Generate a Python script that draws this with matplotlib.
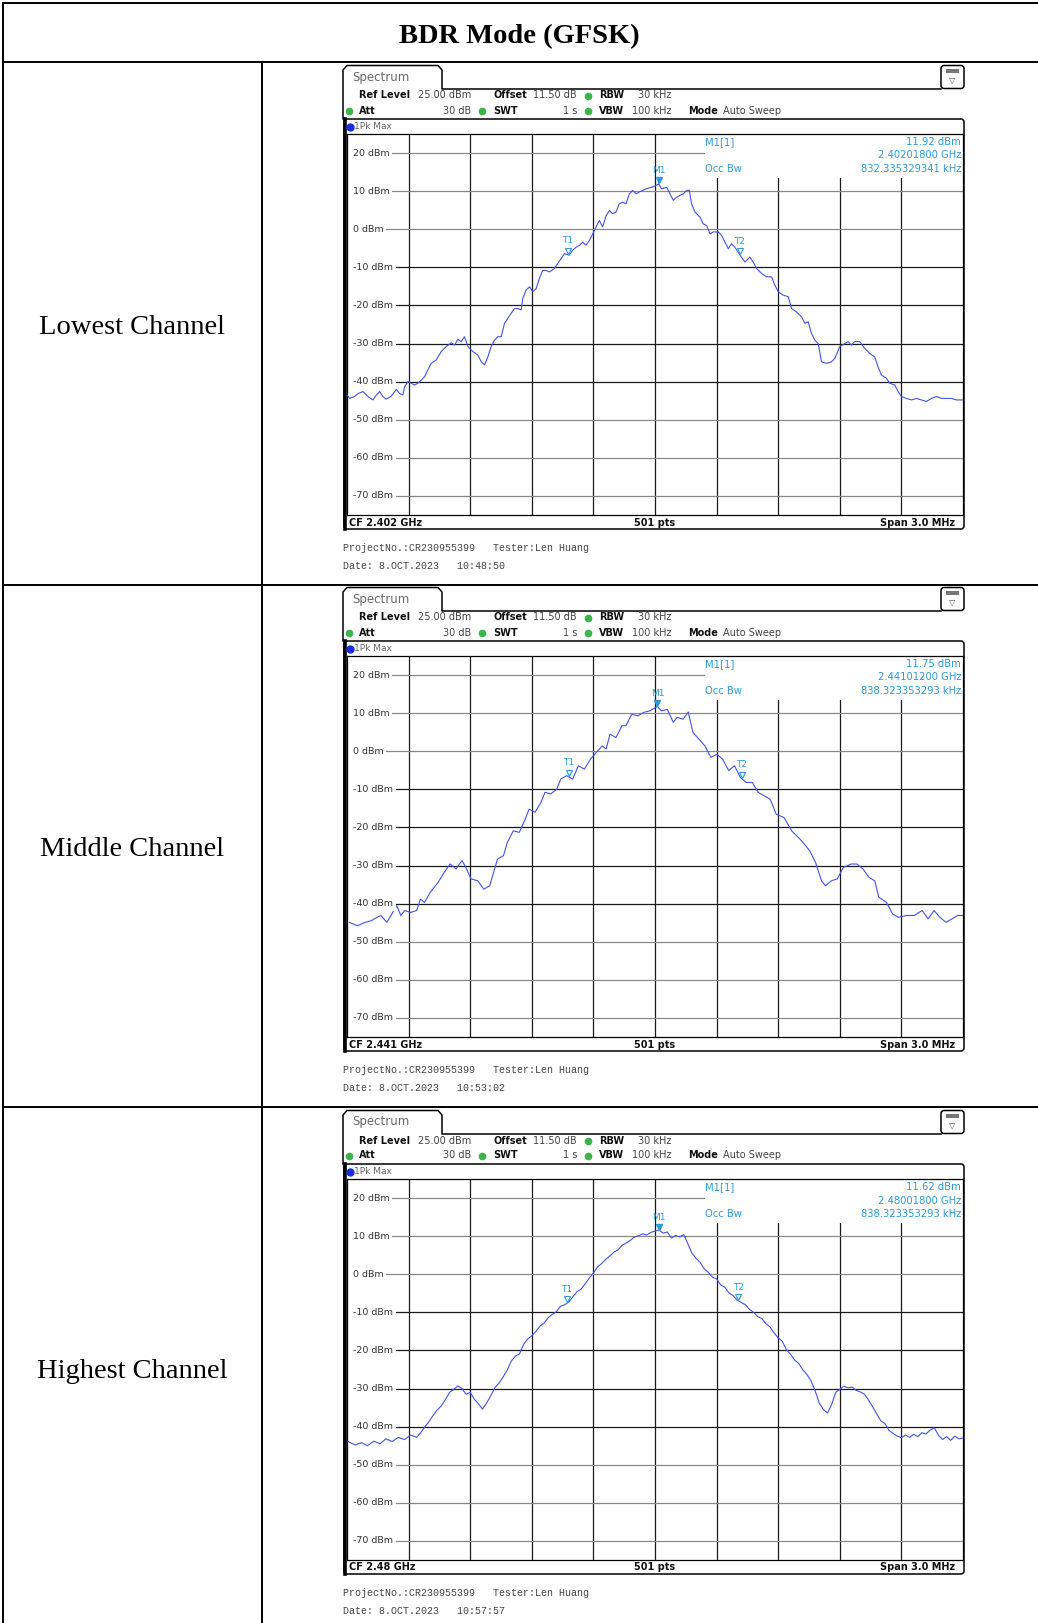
import numpy as np
import matplotlib
matplotlib.use("Agg")
import matplotlib.pyplot as plt
from matplotlib.patches import Rectangle, FancyBboxPatch

W, H = 1038, 1623

# ---- traces: frequency offset from CF (MHz) and level (dBm)
LOW_F = [-1.500, -1.487, -1.463, -1.446, -1.422, -1.398, -1.374, -1.357, -1.341, -1.325,
         -1.309, -1.284, -1.260, -1.244, -1.228, -1.219, -1.203, -1.187, -1.171, -1.155,
         -1.138, -1.122, -1.106, -1.090, -1.065, -1.041, -1.017, -0.992, -0.976, -0.960,
         -0.944, -0.928, -0.911, -0.887, -0.863, -0.846, -0.830, -0.814, -0.798, -0.782,
         -0.765, -0.749, -0.733, -0.717, -0.701, -0.684, -0.668, -0.652, -0.644, -0.628,
         -0.611, -0.595, -0.579, -0.563, -0.547, -0.530, -0.514, -0.490, -0.474, -0.457,
         -0.441, -0.417, -0.401, -0.384, -0.368, -0.352, -0.336, -0.319, -0.303, -0.287,
         -0.271, -0.255, -0.238, -0.222, -0.206, -0.190, -0.174, -0.157, -0.141, -0.125,
         -0.109, -0.092, -0.076, -0.060, -0.044, -0.019, 0.000, 0.018,
         0.032, 0.057, 0.073, 0.089, 0.105, 0.122, 0.138, 0.154, 0.167, 0.178,
         0.195, 0.219, 0.235, 0.251, 0.268, 0.284, 0.308, 0.324, 0.341, 0.357,
         0.373, 0.389, 0.414, 0.438, 0.462, 0.478, 0.495, 0.519, 0.543, 0.568,
         0.584, 0.600, 0.624, 0.649, 0.665, 0.689, 0.714, 0.730, 0.746, 0.762,
         0.778, 0.795, 0.811, 0.835, 0.859, 0.876, 0.900, 0.924, 0.941, 0.957,
         0.973, 0.997, 1.022, 1.046, 1.070, 1.086, 1.103, 1.127, 1.143, 1.168,
         1.184, 1.200, 1.224, 1.249, 1.273, 1.297, 1.322, 1.346, 1.370, 1.395,
         1.419, 1.443, 1.468, 1.500]
LOW_DB = [-43.5, -44.4, -43.9, -43.1, -42.6, -43.9, -44.8, -43.5, -42.6, -43.9,
          -44.6, -43.8, -42.0, -43.1, -43.5, -41.3, -40.0, -40.4, -40.9, -40.4,
          -39.6, -38.7, -36.9, -35.2, -34.3, -32.1, -30.8, -29.8, -30.4, -28.9,
          -29.5, -28.2, -30.8, -32.1, -33.0, -34.8, -35.6, -33.5, -30.8, -29.1,
          -28.2, -28.2, -24.7, -23.4, -22.1, -20.8, -20.8, -21.2, -18.2, -16.0,
          -15.1, -16.4, -15.6, -12.9, -10.8, -10.8, -11.2, -10.3, -9.0, -7.7,
          -6.4, -6.8, -5.5, -4.7, -4.2, -3.4, -4.2, -2.9, -1.2, 0.6,
          2.3, 0.6, 3.6, 4.9, 4.1, 4.5, 6.7, 7.1, 6.7, 9.3,
          10.2, 9.3, 9.8, 10.2, 10.6, 11.0, 11.3, 11.92,
          10.6, 11.0, 9.3, 7.6, 8.4, 8.9, 9.3, 10.2, 10.2, 6.7,
          4.5, 3.2, 1.4, 1.0, -1.2, -0.7, -0.7, -1.6, -3.4, -5.1,
          -3.8, -4.7, -6.8, -8.6, -7.3, -8.6, -10.3, -11.6, -12.5, -12.5,
          -14.7, -16.4, -17.3, -17.7, -20.8, -21.7, -23.0, -24.7, -24.3, -27.3,
          -29.1, -30.0, -34.8, -35.2, -34.8, -33.9, -30.8, -30.0, -29.5, -30.4,
          -29.5, -29.5, -31.3, -32.6, -33.5, -36.1, -38.3, -39.1, -40.4, -40.9,
          -42.6, -43.9, -44.4, -44.8, -44.4, -44.8, -45.2, -44.4, -43.9, -44.4,
          -44.4, -44.4, -44.8, -44.8]

MID_F = [-1.488, -1.450, -1.411, -1.383, -1.354, -1.335, -1.306, -1.277, -1.258, -1.238,
         -1.219, -1.190, -1.161, -1.142, -1.123, -1.094, -1.056, -1.027, -0.998, -0.969,
         -0.940, -0.921, -0.896, -0.863, -0.834, -0.805, -0.786, -0.767, -0.738, -0.719,
         -0.690, -0.661, -0.632, -0.613, -0.584, -0.555, -0.536, -0.507, -0.478, -0.459,
         -0.430, -0.401, -0.373, -0.344, -0.315, -0.286, -0.257, -0.238, -0.219, -0.190,
         -0.161, -0.142, -0.113, -0.084, -0.055, -0.026, 0.012, 0.031, 0.060, 0.089,
         0.108, 0.137, 0.162, 0.185, 0.214, 0.243, 0.272, 0.301, 0.330, 0.359,
         0.387, 0.416, 0.445, 0.474, 0.503, 0.532, 0.561, 0.590, 0.628, 0.666,
         0.705, 0.734, 0.753, 0.782, 0.811, 0.830, 0.859, 0.888, 0.917, 0.955,
         0.984, 1.013, 1.042, 1.070, 1.090, 1.128, 1.157, 1.186, 1.224, 1.263,
         1.301, 1.330, 1.359, 1.388, 1.417, 1.446, 1.474, 1.500]
MID_DB = [-44.9, -45.8, -44.9, -44.5, -43.6, -43.1, -44.9, -42.3, -40.5, -43.1,
          -41.8, -42.3, -41.8, -38.8, -39.7, -37.0, -34.4, -31.8, -29.6, -30.9,
          -28.7, -30.5, -33.5, -34.0, -36.2, -35.3, -31.8, -28.3, -27.4, -23.9,
          -20.9, -21.3, -17.8, -15.2, -16.0, -13.4, -10.8, -11.2, -9.9, -7.3,
          -6.4, -7.3, -3.8, -4.7, -2.1, -0.3, 1.4, 0.6, 4.5, 3.6,
          6.7, 6.7, 9.7, 9.3, 10.2, 10.6, 11.75, 10.6, 11.0, 7.6,
          8.9, 8.4, 10.3, 4.9, 3.2, 1.4, -1.6, -0.8, -2.1, -5.1,
          -3.8, -6.9, -8.2, -8.2, -10.8, -11.7, -12.6, -16.5, -17.4, -20.9,
          -23.0, -24.8, -26.1, -29.2, -34.0, -35.3, -34.0, -33.5, -30.5, -29.6,
          -29.6, -30.9, -33.1, -34.0, -38.3, -39.7, -42.7, -43.6, -43.1, -43.1,
          -41.8, -44.0, -41.8, -43.6, -44.9, -44.0, -43.1, -43.1]

HIGH_F = [-1.495, -1.46, -1.43, -1.40, -1.37, -1.34, -1.31, -1.28, -1.25, -1.22,
          -1.19, -1.16, -1.14, -1.12, -1.10, -1.08, -1.06, -1.04, -1.02, -1.00,
          -0.98, -0.96, -0.94, -0.92, -0.90, -0.88, -0.86, -0.84, -0.82, -0.80,
          -0.78, -0.76, -0.74, -0.72, -0.70, -0.68, -0.66, -0.64, -0.62, -0.60,
          -0.58, -0.56, -0.54, -0.52, -0.50, -0.48, -0.46, -0.44, -0.42, -0.40,
          -0.38, -0.36, -0.34, -0.32, -0.30, -0.28, -0.26, -0.24, -0.22, -0.20,
          -0.18, -0.16, -0.14, -0.12, -0.10, -0.08, -0.06, -0.04, -0.02, 0.018,
          0.04, 0.06, 0.08, 0.10, 0.12, 0.14, 0.16, 0.18, 0.20, 0.22,
          0.24, 0.26, 0.28, 0.30, 0.32, 0.34, 0.36, 0.38, 0.40, 0.42,
          0.44, 0.46, 0.48, 0.50, 0.52, 0.54, 0.56, 0.58, 0.60, 0.62,
          0.64, 0.66, 0.68, 0.70, 0.72, 0.74, 0.76, 0.78, 0.80, 0.82,
          0.84, 0.86, 0.88, 0.90, 0.92, 0.94, 0.96, 0.98, 1.00, 1.02,
          1.04, 1.06, 1.08, 1.10, 1.12, 1.14, 1.16, 1.18, 1.20, 1.22,
          1.24, 1.26, 1.28, 1.30, 1.32, 1.34, 1.36, 1.38, 1.40, 1.42,
          1.44, 1.46, 1.48, 1.50]
HIGH_DB = [-43.9, -44.8, -44.2, -45.0, -43.8, -44.5, -43.2, -43.9, -42.8, -43.4,
           -42.2, -42.8, -41.5, -40.0, -38.6, -37.0, -35.6, -34.5, -32.8, -31.0,
           -30.2, -29.3, -30.0, -31.5, -31.0, -32.8, -34.0, -35.4, -33.8, -31.9,
           -29.8, -28.6, -27.0, -25.2, -22.8, -21.5, -20.9, -18.4, -17.0, -16.1,
           -15.0, -13.6, -12.8, -11.4, -10.5, -9.8, -8.4, -8.0, -7.3, -5.9,
           -4.6, -3.9, -2.5, -1.0, 0.3, 1.9, 2.8, 3.9, 4.8, 5.8,
           6.4, 7.6, 8.2, 8.9, 9.8, 10.1, 10.6, 10.3, 11.0, 11.62,
           10.8, 11.1, 9.5, 10.2, 9.8, 10.4, 8.0, 5.5, 4.2, 3.1,
           1.4, 0.5, -0.8, -1.2, -2.8, -3.4, -4.9, -5.6, -6.8, -7.4,
           -8.0, -9.2, -10.0, -11.1, -11.6, -13.0, -13.8, -15.4, -16.7, -17.6,
           -19.8, -21.0, -22.5, -23.4, -25.1, -26.3, -28.0, -30.6, -33.8, -35.5,
           -36.4, -34.2, -31.0, -30.2, -29.4, -29.8, -29.6, -30.5, -30.9, -31.5,
           -33.0, -34.8, -36.7, -38.5, -39.2, -41.0, -41.8, -42.5, -42.9, -42.2,
           -42.8, -42.0, -42.6, -41.6, -41.9, -40.9, -40.3, -42.2, -43.4, -42.6,
           -43.6, -42.5, -43.2, -43.0]

CHANNELS = ["Lowest Channel", "Middle Channel", "Highest Channel"]
TRACES = [(LOW_F, LOW_DB), (MID_F, MID_DB), (HIGH_F, HIGH_DB)]
CF_LABELS = ["CF 2.402 GHz", "CF 2.441 GHz", "CF 2.48 GHz"]
PEAK_DBM = ["11.92 dBm", "11.75 dBm", "11.62 dBm"]
PEAK_FREQ = ["2.40201800 GHz", "2.44101200 GHz", "2.48001800 GHz"]
OCC_BW = ["832.335329341 kHz", "838.323353293 kHz", "838.323353293 kHz"]
TIMES = ["10:48:50", "10:53:02", "10:57:57"]
M1_POS = [0.018, 0.012, 0.018]
T1_POS = [-0.425, -0.421, -0.428]
T2_POS = [0.414, 0.422, 0.405]
LEVELS = [20, 10, 0, -10, -20, -30, -40, -50, -60, -70]

OFFSETS = [0, 522, 1045]      # vertical pixel shift of each panel
TRACE_C = "#4353ee"
MARK_C = "#2a9bdc"
GREEN = "#3bb54a"

fig = plt.figure(figsize=(W / 100, H / 100), dpi=100)
ov = fig.add_axes([0, 0, 1, 1], zorder=10)
ov.set_xlim(0, W); ov.set_ylim(H, 0); ov.axis("off")

# ---- table
lw_t = 1.4
ov.plot([3, W], [3, 3], color="k", lw=lw_t)
for y in (62, 585, 1107):
    ov.plot([3, W], [y, y], color="k", lw=lw_t)
ov.plot([3, 3], [3, H], color="k", lw=lw_t)
ov.plot([262, 262], [62, H], color="k", lw=lw_t)
ov.text(519, 37, "BDR Mode (GFSK)", ha="center", va="center", fontsize=20.5,
        fontweight="bold", family="Liberation Serif")


def small(x, y, s, bold=False, color="#444", ha="left", size=7, **kw):
    ov.text(x, y, s, ha=ha, va="center", fontsize=size, color=color,
            fontweight="bold" if bold else "normal", family="DejaVu Sans", **kw)


def draw_panel(i):
    o = OFFSETS[i]
    f, db = TRACES[i]
    ov.text(132, 327 + o, CHANNELS[i], ha="center", va="center", fontsize=20.5,
            family="Liberation Serif")

    # tab + outer frame
    ov.plot([343, 343, 347, 438, 442, 442, 941], [119 + o, 70 + o, 65.5 + o, 65.5 + o,
            70 + o, 89 + o, 89 + o], color="k", lw=1.1)
    ov.add_patch(FancyBboxPatch((941, 65.5 + o), 23, 23, boxstyle="round,pad=0,rounding_size=3",
                                fc="white", ec="k", lw=1.1))
    ov.add_patch(Rectangle((946, 69 + o), 13, 4, fc="#777", ec="none"))
    ov.text(952.5, 80 + o, "\u25bd", ha="center", va="center", fontsize=6, color="#555")
    small(352, 77 + o, "Spectrum", color="#6a6a6a", size=8.5)

    # settings rows
    r1, r2 = 95.5 + o, 110.5 + o
    small(359, r1, "Ref Level", bold=True, color="#111")
    small(471, r1, "25.00 dBm", ha="right")
    small(493, r1, "Offset", bold=True, color="#111")
    small(577, r1, "11.50 dB", ha="right")
    small(599, r1, "RBW", bold=True, color="#111")
    small(671, r1, "30 kHz", ha="right")
    small(359, r2, "Att", bold=True, color="#111")
    small(471, r2, "30 dB", ha="right")
    small(493, r2, "SWT", bold=True, color="#111")
    small(577, r2, "1 s", ha="right")
    small(599, r2, "VBW", bold=True, color="#111")
    small(671, r2, "100 kHz", ha="right")
    small(688, r2, "Mode", bold=True, color="#111")
    small(723, r2, "Auto Sweep")
    ov.plot([588], [r1], "o", color=GREEN, ms=4.5)
    for gx in (348.5, 482, 588):
        ov.plot([gx], [r2], "o", color=GREEN, ms=4.5)

    # inner frame
    ov.add_patch(FancyBboxPatch((344, 119 + o), 620, 410, boxstyle="round,pad=0,rounding_size=3",
                                fc="none", ec="k", lw=1.1))
    ov.plot([344.5, 344.5], [119 + o, 529 + o], color="k", lw=2.6)
    ov.plot([350], [126.5 + o], "o", color="#1a2be0", ms=5)
    small(354, 126.5 + o, "1Pk Max", color="#666", size=6.5)
    small(349, 522.5 + o, CF_LABELS[i], bold=True, color="#111")
    small(655, 522.5 + o, "501 pts", bold=True, color="#111", ha="center")
    small(955, 522.5 + o, "Span 3.0 MHz", bold=True, color="#111", ha="right")

    # footer
    ov.text(343, 548 + o, "ProjectNo.:CR230955399   Tester:Len Huang", va="center",
            fontsize=7.2, family="Liberation Mono", color="#444")
    ov.text(343, 566 + o, "Date: 8.OCT.2023   " + TIMES[i], va="center",
            fontsize=7.2, family="Liberation Mono", color="#444")

    # marker info
    small(705, 142 + o, "M1[1]", color=MARK_C, size=7.2)
    small(961, 142 + o, PEAK_DBM[i], color=MARK_C, ha="right", size=7.2)
    small(961, 155.5 + o, PEAK_FREQ[i], color=MARK_C, ha="right", size=7.2)
    small(705, 169 + o, "Occ Bw", color=MARK_C, size=7.2)
    small(961, 169 + o, OCC_BW[i], color=MARK_C, ha="right", size=7.2)

    # spectrum grid
    l, r, t, b = 347, 963, 134 + o, 515 + o
    ax = fig.add_axes([l / W, 1 - b / H, (r - l) / W, (b - t) / H], zorder=5)
    ax.set_xlim(-1.5, 1.5)
    ax.set_ylim(-75, 25)
    ax.set_xticks([]); ax.set_yticks([])
    for s in ax.spines.values():
        s.set_linewidth(0.9)
    for xv in np.linspace(-1.5, 1.5, 11)[1:-1]:
        ax.axvline(xv, color="#1a1a1a", lw=0.9, zorder=1)
    for lv in LEVELS:
        dark = -40 <= lv <= -10
        ax.axhline(lv, color="#1a1a1a" if dark else "#8a8a8a", lw=0.9, zorder=1)
        ax.text(0.009, lv, f"{lv} dBm", transform=ax.get_yaxis_transform(), ha="left",
                va="center", fontsize=6.8, color="#333", zorder=4,
                bbox=dict(fc="white", ec="none", boxstyle="square,pad=0.35"))
    ax.add_patch(Rectangle((0.0, -75), 0.012, 100, transform=ax.get_yaxis_transform(),
                           fc="white", ec="none", zorder=2))
    ax.add_patch(Rectangle((0.581, 0.8845), 0.42, 0.12, transform=ax.transAxes,
                           fc="white", ec="none", zorder=2))

    ax.plot(f, db, color=TRACE_C, lw=0.8, zorder=3)

    # markers
    m1y = np.interp(M1_POS[i], f, db)
    ax.plot([M1_POS[i]], [m1y + 0.9], marker="v", color=MARK_C, ms=5, zorder=5)
    ax.text(M1_POS[i], m1y + 3.4, "M1", color=MARK_C, fontsize=6.5, ha="center",
            va="center", zorder=5)
    for name, pos in (("T1", T1_POS[i]), ("T2", T2_POS[i])):
        ty = np.interp(pos, f, db)
        ax.plot([pos], [ty + 1.0], marker="v", mfc="none", mec=MARK_C, ms=4.5, mew=0.8,
                zorder=5)
        ax.text(pos, ty + 3.6, name, color=MARK_C, fontsize=6.5, ha="center",
                va="center", zorder=5)


for k in range(3):
    draw_panel(k)

fig.savefig("out.png", dpi=100)
